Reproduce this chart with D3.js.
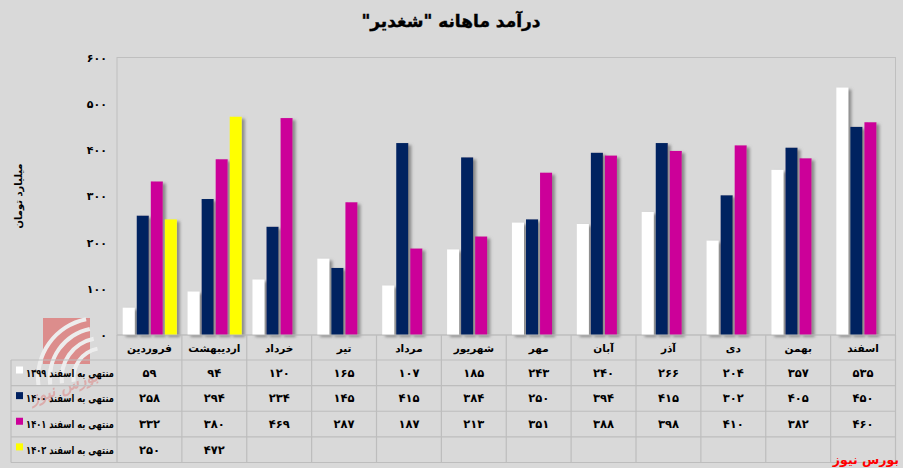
<!DOCTYPE html>
<html><head><meta charset="utf-8">
<script src="https://cdn.jsdelivr.net/npm/d3@7"></script>
<style>
html,body{margin:0;padding:0;background:#d9d9d9;}
text{font-family:"DejaVu Sans",sans-serif;font-weight:bold;}
</style></head>
<body><svg id="c" width="903" height="468"></svg>
<script>
const categories = ["فروردین","اردیبهشت","خرداد","تیر","مرداد","شهریور","مهر","آبان","آذر","دی","بهمن","اسفند"];
const s1399 = [59,94,120,165,107,185,243,240,266,204,357,535];
const s1400 = [258,294,234,145,415,384,250,394,415,302,405,450];
const s1401 = [332,380,469,287,187,213,351,388,398,410,382,460];
const s1402 = [250,472,null,null,null,null,null,null,null,null,null,null];
const seriesNames = ["منتهی به اسفند 1399","منتهی به اسفند 1400","منتهی به اسفند 1401","منتهی به اسفند 1402"];
const seriesColors = ["#ffffff","#002060","#cc0099","#ffff00"];
const yTicks = [0,100,200,300,400,500,600];
const title = 'درآمد ماهانه "شغدیر"';
const yLabel = "میلیارد تومان";
const source = "بورس نیوز";

const series = [s1399,s1400,s1401,s1402];
const fa = s => String(s).replace(/\d/g, d => "۰۱۲۳۴۵۶۷۸۹"[d]);

const svg = d3.select("#c");
const L = 117, R = 895.5, T = 57.5, B = 335;
const x = d3.scaleBand().domain(categories).range([L, R]);
const xs = d3.scaleBand().domain(d3.range(series.length)).range([5.7, 59.9]).paddingInner(0.143);
const y = d3.scaleLinear().domain([0, 600]).range([B, T]);

const defs = svg.append("defs");
const f = defs.append("filter").attr("id","sh").attr("x","-30%").attr("y","-10%").attr("width","180%").attr("height","130%");
f.append("feDropShadow").attr("dx",3).attr("dy",2).attr("stdDeviation",1.4).attr("flood-color","#777").attr("flood-opacity",0.8);

svg.append("rect").attr("x",L).attr("y",T).attr("width",R-L).attr("height",B-T)
  .attr("fill","none").attr("stroke","#bfbfbf").attr("stroke-width",1);

// watermark logo
const wm = svg.append("g").attr("opacity",0.55);
wm.append("rect").attr("x",43).attr("y",318).attr("width",47).attr("height",46).attr("fill","#e0504f");
[[62,0],[52,6],[42,12],[32,18]].forEach(([r,i])=>{
  wm.append("path").attr("d", d3.arc()({innerRadius:r-4,outerRadius:r,startAngle:-1.7,endAngle:-0.2}))
    .attr("transform",`translate(${98+i*0.3},${378})`).attr("fill","#ffffff");
});
wm.append("text").attr("x",66).attr("y",392).attr("text-anchor","middle").attr("font-size",16)
  .attr("fill","#e0504f").attr("opacity",0.6).attr("font-style","italic").attr("transform","rotate(-20,66,392)").text(source);

const g = svg.append("g");
categories.forEach((c, ci) => {
  series.forEach((s, si) => {
    const v = s[ci];
    if (v == null) return;
    g.append("rect").attr("x", x(c) + xs(si)).attr("y", y(v))
      .attr("width", xs.bandwidth()).attr("height", y(0) - y(v))
      .attr("fill", seriesColors[si]).attr("filter","url(#sh)");
  });
});

const ya = svg.append("g").attr("transform",`translate(${L},0)`)
  .call(d3.axisLeft(y).tickValues(yTicks).tickSize(0).tickPadding(10).tickFormat(d => fa(d)));
ya.select(".domain").remove();
ya.selectAll("text").attr("font-size",11).attr("fill","#000").attr("font-family","DejaVu Sans").attr("font-weight","bold");

svg.append("text").attr("transform","translate(22,196) rotate(-90)").attr("text-anchor","middle")
  .attr("font-size",10).attr("fill","#000").text(yLabel);

svg.append("text").attr("x",451).attr("y",27).attr("text-anchor","middle").attr("font-size",17)
  .attr("fill","#000").attr("direction","rtl").attr("stroke","#000").attr("stroke-width",0.4).text(title);

const rowY = d3.scaleBand().domain(d3.range(series.length)).range([360, 462.5]);
const lineC = "#bdbdbd";
const tg = svg.append("g");
tg.append("line").attr("x1",L).attr("x2",R).attr("y1",B).attr("y2",B).attr("stroke",lineC);
d3.range(series.length+1).forEach(i => {
  const yy = i < series.length ? rowY(i) : rowY.range()[1];
  tg.append("line").attr("x1",11).attr("x2",R).attr("y1",yy).attr("y2",yy).attr("stroke",lineC).attr("stroke-width",1.2);
});
tg.append("line").attr("x1",11).attr("x2",11).attr("y1",360).attr("y2",462.5).attr("stroke",lineC).attr("stroke-width",1.2);
categories.forEach(c => {
  tg.append("line").attr("x1",x(c)).attr("x2",x(c)).attr("y1",B).attr("y2",462.5).attr("stroke",lineC).attr("stroke-width",1.2);
});
tg.append("line").attr("x1",R).attr("x2",R).attr("y1",B).attr("y2",462.5).attr("stroke",lineC).attr("stroke-width",1.2);

categories.forEach(c => {
  tg.append("text").attr("x", x(c) + x.bandwidth()/2).attr("y", 352).attr("text-anchor","middle")
    .attr("font-size",10.5).attr("fill","#000").text(c);
});
series.forEach((s, si) => {
  const yy = rowY(si) + rowY.bandwidth()/2 + 4;
  tg.append("rect").attr("x",16).attr("y",rowY(si)+6.5).attr("width",7).attr("height",7)
    .attr("fill",seriesColors[si]);
  const lt = tg.append("text").attr("x",0).attr("y",0).attr("text-anchor","start").attr("direction","rtl")
    .attr("font-size",11).attr("fill","#000").text(fa(seriesNames[si]));
  const w = lt.node().getComputedTextLength();
  const k = w > 88 ? 88 / w : 1;
  lt.attr("transform", `translate(114,${yy}) scale(${k},1)`);
  s.forEach((v, ci) => {
    if (v == null) return;
    tg.append("text").attr("x", x(categories[ci]) + x.bandwidth()/2).attr("y", yy)
      .attr("text-anchor","middle").attr("font-size",11.5).attr("fill","#000").text(fa(v));
  });
});

svg.append("text").attr("x",899).attr("y",464).attr("text-anchor","start").attr("direction","rtl")
  .attr("font-size",12.5).attr("fill","#ff0000").text(source);
</script></body></html>
